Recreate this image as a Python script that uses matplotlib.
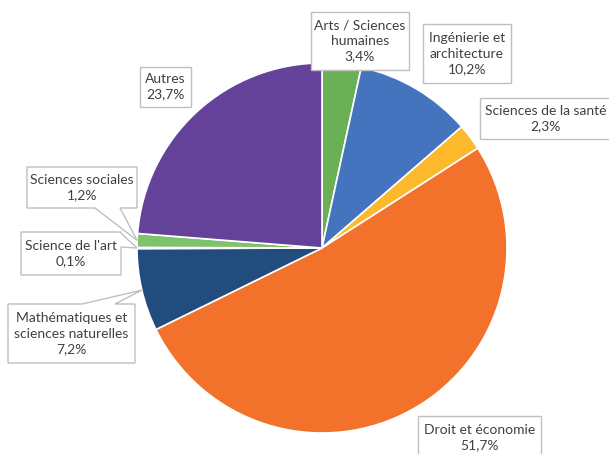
import matplotlib
matplotlib.use("Agg")
import matplotlib.pyplot as plt
from matplotlib.patches import Polygon
import numpy as np

categories = ["Arts / Sciences\nhumaines", "Ingénierie et\narchitecture",
              "Sciences de la santé", "Droit et économie",
              "Mathématiques et\nsciences naturelles", "Science de l'art",
              "Sciences sociales", "Autres"]
values = [3.4, 10.2, 2.3, 51.7, 7.2, 0.1, 1.2, 23.7]
value_labels = ["3,4%", "10,2%", "2,3%", "51,7%", "7,2%", "0,1%", "1,2%", "23,7%"]
colors = ["#6AB155", "#4574BF", "#FBB92B", "#F2712B", "#224C7E",
          "#A9D18E", "#7DC26C", "#65429A"]

W, H = 609, 454
CX, CY, R = 322, 248, 185  # pie centre / radius in pixels

fig = plt.figure(figsize=(W / 100, H / 100), dpi=100)
ax = fig.add_axes([0, 0, 1, 1])

wedges, _ = ax.pie(values, colors=colors, startangle=90, counterclock=False,
                   radius=1.0, center=(0, 0),
                   wedgeprops=dict(edgecolor="white", linewidth=1.2))
ax.set_xlim(-CX / R, (W - CX) / R)
ax.set_ylim((CY - H) / R, CY / R)
ax.set_aspect("equal", adjustable="box")
ax.axis("off")

# mid angle of each slice in data coords
total = sum(values)
cum = np.cumsum([0] + values[:-1])
mids = []
for c, v in zip(cum, values):
    frac = (c + v / 2) / total
    ang = np.deg2rad(90 - 360 * frac)
    mids.append((np.cos(ang), np.sin(ang)))

def px(x, y):
    return ((x - CX) / R, (CY - y) / R)

# box layout: (left, top, right, bottom) pixels, callout: (edge, a, b)
layout = [
    ((311, 12, 409, 70), None),
    ((423, 24, 511, 83), None),
    ((480, 98, 616, 139), None),
    ((418, 416, 541, 462), None),
    ((8, 304, 135, 363), ("top", 82, 115)),
    ((21, 232, 121, 275), ("right", 233, 247)),
    ((27, 167, 137, 208), ("bottom", 95, 120)),
    ((140, 67, 191, 107), None),
]
text_dx = [0, 0, 1, 0, 0, 0, 0, 0]

edge_c = "#BFBFBF"
txt_c = "#404040"
font = "Lato"

for i, ((l, t, r, b), co) in enumerate(layout):
    tip = mids[i]
    if co is None:
        pts = [(l, t), (r, t), (r, b), (l, b)]
        verts = [px(*p) for p in pts]
    else:
        edge, a, bb = co
        if edge == "top":
            pts = [(l, t), (a, t), None, (bb, t), (r, t), (r, b), (l, b)]
        elif edge == "right":
            pts = [(l, t), (r, t), (r, a), None, (r, bb), (r, b), (l, b)]
        else:  # bottom
            pts = [(l, t), (r, t), (r, b), (bb, b), None, (a, b), (l, b)]
        verts = [tip if p is None else px(*p) for p in pts]
    ax.add_patch(Polygon(verts, closed=True, facecolor="white",
                         edgecolor=edge_c, linewidth=1.0, zorder=3,
                         clip_on=False))
    cy_px = (t + min(b, 454 if i != 3 else 460)) / 2
    cx_, cy_ = px((l + min(r, 609)) / 2 + text_dx[i], cy_px)
    ax.text(cx_, cy_, categories[i] + "\n" + value_labels[i], ha="center",
            va="center", fontsize=10, color=txt_c, family=font,
            linespacing=1.33, zorder=4)

fig.savefig("out.png", dpi=100, facecolor="white")
